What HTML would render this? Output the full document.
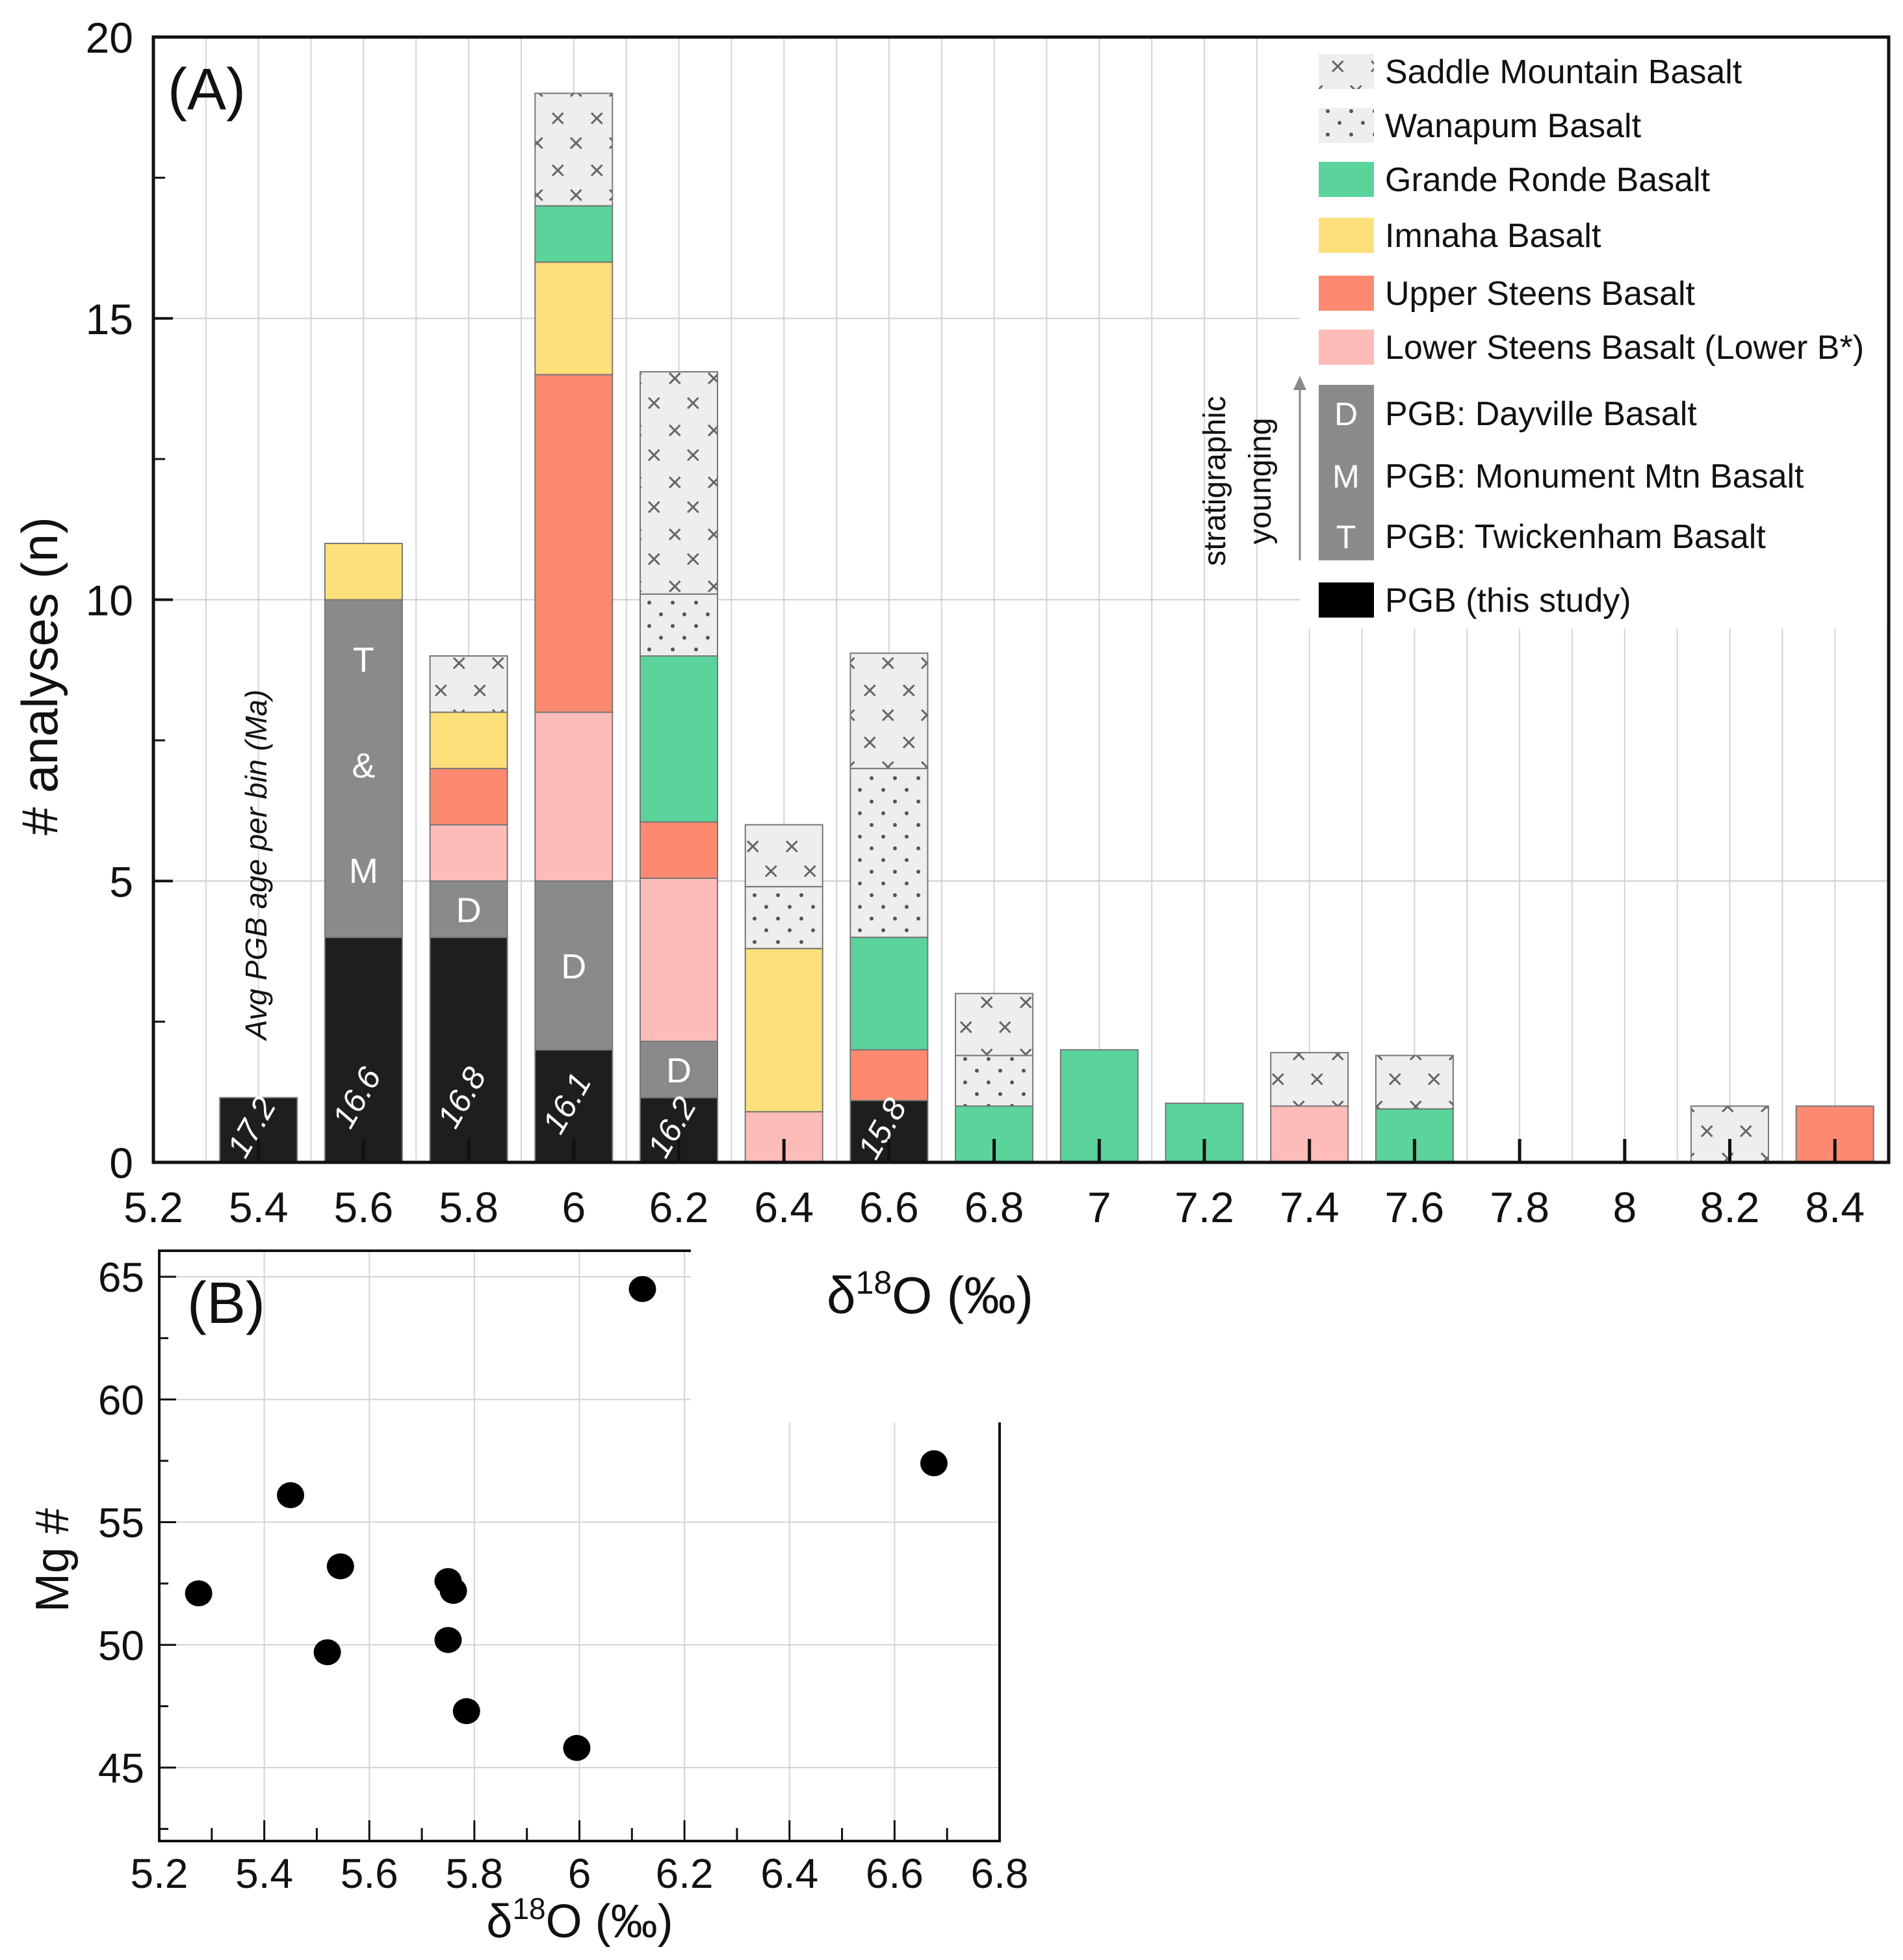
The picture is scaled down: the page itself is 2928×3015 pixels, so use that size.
<!DOCTYPE html>
<html><head><meta charset="utf-8"><style>
body{margin:0;background:#fff}
svg{display:block;font-family:"Liberation Sans",sans-serif}
</style></head><body>
<svg id="c" width="2928" height="3015" viewBox="0 0 2928 3015" xmlns="http://www.w3.org/2000/svg">
<defs>
<pattern id="px" width="60" height="80" patternUnits="userSpaceOnUse">
<rect width="60" height="80" fill="#eeeeee"/>
<text x="6" y="36" font-size="42" fill="#666">×</text>
<text x="34" y="74" font-size="42" fill="#666">×</text>
</pattern>
<pattern id="pd" width="36" height="36" patternUnits="userSpaceOnUse">
<rect width="36" height="36" fill="#eeeeee"/>
<circle cx="9" cy="9" r="3" fill="#555"/><circle cx="27" cy="27" r="3" fill="#555"/>
</pattern>
</defs>
<g id="gA"></g>
<g id="gB"></g>
</svg>
<script>
// Panel A data
const bins = [5.4,5.6,5.8,6.0,6.2,6.4,6.6,6.8,7.0,7.2,7.4,7.6,8.2,8.4];
const pgb     = [1.15,4,4,2,1.15,0,1.1,0,0,0,0,0,0,0];
const pgbGray = [0,6,1,3,1,0,0,0,0,0,0,0,0,0];
const lowerSt = [0,0,1,3,2.9,0.9,0,0,0,0,1,0,0,0];
const upperSt = [0,0,1,6,1,0,0.9,0,0,0,0,0,0,1];
const imnaha  = [0,1,1,2,0,2.9,0,0,0,0,0,0,0,0];
const grande  = [0,0,0,1,2.95,0,2,1,2,1.05,0,0.95,0,0];
const wanapum = [0,0,0,0,1.1,1.1,3,0.9,0,0,0,0,0,0];
const saddle  = [0,0,1,2,3.95,1.1,2.05,1.1,0,0,0.95,0.95,1,0];
const grayLabels = ["","T&M","D","D","D","","","","","","","","",""];
const ageLabels = ["17.2","16.6","16.8","16.1","16.2","","15.8","","","","","","",""];
const xTicksA = [5.2,5.4,5.6,5.8,6,6.2,6.4,6.6,6.8,7,7.2,7.4,7.6,7.8,8,8.2,8.4];
const yTicksA = [0,5,10,15,20];
// Panel B data
const d18O = [5.275,5.45,5.545,5.52,5.75,5.76,5.75,5.785,5.995,6.12,6.675];
const mgNum = [52.1,56.1,53.2,49.7,52.6,52.2,50.2,47.3,45.8,64.5,57.4];
const xTicksB = [5.2,5.4,5.6,5.8,6,6.2,6.4,6.6,6.8];
const yTicksB = [45,50,55,60,65];

const NS="http://www.w3.org/2000/svg";
function mk(p,t,a,txt){const e=document.createElementNS(NS,t);for(const k in a)e.setAttribute(k,a[k]);if(txt!==undefined)e.textContent=txt;p.appendChild(e);return e;}
const gA=document.getElementById('gA'), gB=document.getElementById('gB');
const AL=236,AR=2906,AT=57,AB=1788;
const xA=v=>AL+(v-5.2)/0.2*161.7;
const yA=v=>AB-v/20*(AB-AT);
for(let i=0;i<=33;i++){const v=5.2+i*0.1;const l=mk(gA,'line',{x1:xA(v),x2:xA(v),y1:AT,y2:AB,stroke:'#d4d4d4','stroke-width':2});

}
[5,10,15].forEach(v=>{const l=mk(gA,'line',{x1:AL,x2:AR,y1:yA(v),y2:yA(v),stroke:'#cfcfcf','stroke-width':2});

});
const series=[[pgb,'#1e1e1e','pgb'],[pgbGray,'#8a8a8a','pgb-gray'],[lowerSt,'#fdbcb8','lower-steens'],[upperSt,'#fd8a70','upper-steens'],[imnaha,'#fde07a','imnaha'],[grande,'#5ad49a','grande-ronde'],[wanapum,'url(#pd)','wanapum'],[saddle,'url(#px)','saddle-mountain']];
const BW=119;
bins.forEach((b,i)=>{let acc=0;const cx=xA(b);
 series.forEach(([arr,fill,nm])=>{const v=arr[i];if(!v)return;
  const r=mk(gA,'rect',{x:cx-BW/2,y:yA(acc+v),width:BW,height:yA(acc)-yA(acc+v),fill:fill,stroke:'#777','stroke-width':2});
  
  
  if(nm==='pgb-gray'&&grayLabels[i]){
   const mid=(yA(acc)+yA(acc+v))/2;
   if(grayLabels[i]==='T&M'){['T','&','M'].forEach((s,k)=>{const t=mk(gA,'text',{x:cx,y:yA(acc+v)+(k+0.5)*(yA(acc)-yA(acc+v))/3.2+30,'font-size':54,fill:'#fff','text-anchor':'middle'},s);
     
     });}
   else{const t=mk(gA,'text',{x:cx,y:mid+20,'font-size':54,fill:'#fff','text-anchor':'middle'},grayLabels[i]);
    
    }
  }
  acc+=v;});
 if(ageLabels[i]){const t=mk(gA,'text',{x:0,y:0,'font-size':50,fill:'#fff','font-style':'italic','text-anchor':'middle',transform:`translate(${cx+4},${yA(Math.min(pgb[i],2.2)/2)+4}) rotate(-60)`},ageLabels[i]);
  
  }
});
const lb=mk(gA,'rect',{x:2000,y:AT+2,width:AR-2002,height:908,fill:'#fff'});


const leg=[['Saddle Mountain Basalt','url(#px)',110],['Wanapum Basalt','url(#pd)',193],['Grande Ronde Basalt','#5ad49a',276],['Imnaha Basalt','#fde07a',362],['Upper Steens Basalt','#fd8a70',451],['Lower Steens Basalt (Lower B*)','#fdbcb8',534],['PGB (this study)','#000',923]];
leg.forEach(([t,f,y])=>{const r=mk(gA,'rect',{x:2029,y:y-27,width:85,height:54,fill:f});
 
 
 const tx=mk(gA,'text',{x:2131,y:y+18,'font-size':52,fill:'#111'},t);
 
 });
const gb=mk(gA,'rect',{x:2029,y:592,width:85,height:270,fill:'#8a8a8a'});


[['D','PGB: Dayville Basalt',636],['M','PGB: Monument Mtn Basalt',732],['T','PGB: Twickenham Basalt',825]].forEach(([l,t,y])=>{
 const a=mk(gA,'text',{x:2071,y:y+18,'font-size':50,fill:'#fff','text-anchor':'middle'},l);
 
 
 const b=mk(gA,'text',{x:2131,y:y+18,'font-size':52,fill:'#111'},t);
 
 });
const ar=mk(gA,'line',{x1:2000,x2:2000,y1:862,y2:595,stroke:'#888','stroke-width':3});


const ah=mk(gA,'polygon',{points:'1990,600 2010,600 2000,578',fill:'#888'});


const s1=mk(gA,'text',{x:0,y:0,'font-size':48,fill:'#111','text-anchor':'middle',transform:'translate(1885,740) rotate(-90)'},'stratigraphic');


const s2=mk(gA,'text',{x:0,y:0,'font-size':48,fill:'#111','text-anchor':'middle',transform:'translate(1955,740) rotate(-90)'},'younging');


const fr=mk(gA,'rect',{x:AL,y:AT,width:AR-AL,height:AB-AT,fill:'none',stroke:'#111','stroke-width':5});


xTicksA.forEach(v=>{const l=mk(gA,'line',{x1:xA(v),x2:xA(v),y1:AB,y2:AB-36,stroke:'#111','stroke-width':5});
 
 
 const t=mk(gA,'text',{x:xA(v),y:AB+92,'font-size':66,fill:'#111','text-anchor':'middle'},String(v));
 
 });
yTicksA.forEach(v=>{const l=mk(gA,'line',{x1:AL,x2:AL+30,y1:yA(v),y2:yA(v),stroke:'#111','stroke-width':4});
 
 
 const t=mk(gA,'text',{x:205,y:yA(v)+24,'font-size':66,fill:'#111','text-anchor':'end'},String(v));
 
 });
[2.5,7.5,12.5,17.5].forEach(v=>{const l=mk(gA,'line',{x1:AL,x2:AL+18,y1:yA(v),y2:yA(v),stroke:'#111','stroke-width':3});
 
 });
const yt=mk(gA,'text',{x:0,y:0,'font-size':78,fill:'#111','text-anchor':'middle',transform:'translate(88,1040) rotate(-90)'},'# analyses (n)');


const pa=mk(gA,'text',{x:258,y:168,'font-size':90,fill:'#111'},'(A)');


const av=mk(gA,'text',{x:0,y:0,'font-size':46,fill:'#111','font-style':'italic','text-anchor':'middle',transform:'translate(410,1330) rotate(-90)'},'Avg PGB age per bin (Ma)');



// Panel B
const BL=245,BR=1538,BT=1924,BBm=2832;
const xB=v=>BL+(v-5.2)/1.6*(BR-BL);
const yB=v=>1964-(v-65)*37.75;
xTicksB.forEach(v=>{const l=mk(gB,'line',{x1:xB(v),x2:xB(v),y1:BT,y2:BBm,stroke:'#d4d4d4','stroke-width':2});
 
 });
yTicksB.forEach(v=>{const l=mk(gB,'line',{x1:BL,x2:BR,y1:yB(v),y2:yB(v),stroke:'#d4d4d4','stroke-width':2});
 
 });
const fb=mk(gB,'rect',{x:BL,y:BT,width:BR-BL,height:BBm-BT,fill:'none',stroke:'#111','stroke-width':4});


for(let i=0;i<=16;i++){const v=5.2+i*0.1;const l=mk(gB,'line',{x1:xB(v),x2:xB(v),y1:BBm,y2:BBm-(i%2?20:32),stroke:'#111','stroke-width':3});
 
 }
xTicksB.forEach(v=>{const t=mk(gB,'text',{x:xB(v),y:BBm+72,'font-size':64,fill:'#111','text-anchor':'middle'},String(v));
 
 });
for(let v=42.5;v<=65;v+=2.5){const l=mk(gB,'line',{x1:BL,x2:BL+(v%5?14:26),y1:yB(v),y2:yB(v),stroke:'#111','stroke-width':3});
 
 }
yTicksB.forEach(v=>{const t=mk(gB,'text',{x:222,y:yB(v)+23,'font-size':64,fill:'#111','text-anchor':'end'},String(v));
 
 });
const wb=mk(gB,'rect',{x:1063,y:1915,width:590,height:273,fill:'#fff'});


const rb=mk(gB,'line',{x1:BR,x2:BR,y1:2188,y2:BBm,stroke:'#111','stroke-width':4});


d18O.forEach((x,i)=>{const c=mk(gB,'ellipse',{cx:xB(x),cy:yB(mgNum[i]),rx:21,ry:20,fill:'#000'});
 
 });
const pb=mk(gB,'text',{x:288,y:2035,'font-size':90,fill:'#111'},'(B)');


const st=mk(gB,'text',{x:1272,y:2020,'font-size':80,fill:'#111'});
st.innerHTML='δ<tspan font-size="50" dy="-30">18</tspan><tspan dy="30">O (‰)</tspan>';


const xt=mk(gB,'text',{x:892,y:2980,'font-size':72,fill:'#111','text-anchor':'middle'});
xt.innerHTML='δ<tspan font-size="46" dy="-28">18</tspan><tspan dy="28">O (‰)</tspan>';


const mt=mk(gB,'text',{x:0,y:0,'font-size':72,fill:'#111','text-anchor':'middle',transform:'translate(105,2400) rotate(-90)'},'Mg #');


</script>
</body></html>
